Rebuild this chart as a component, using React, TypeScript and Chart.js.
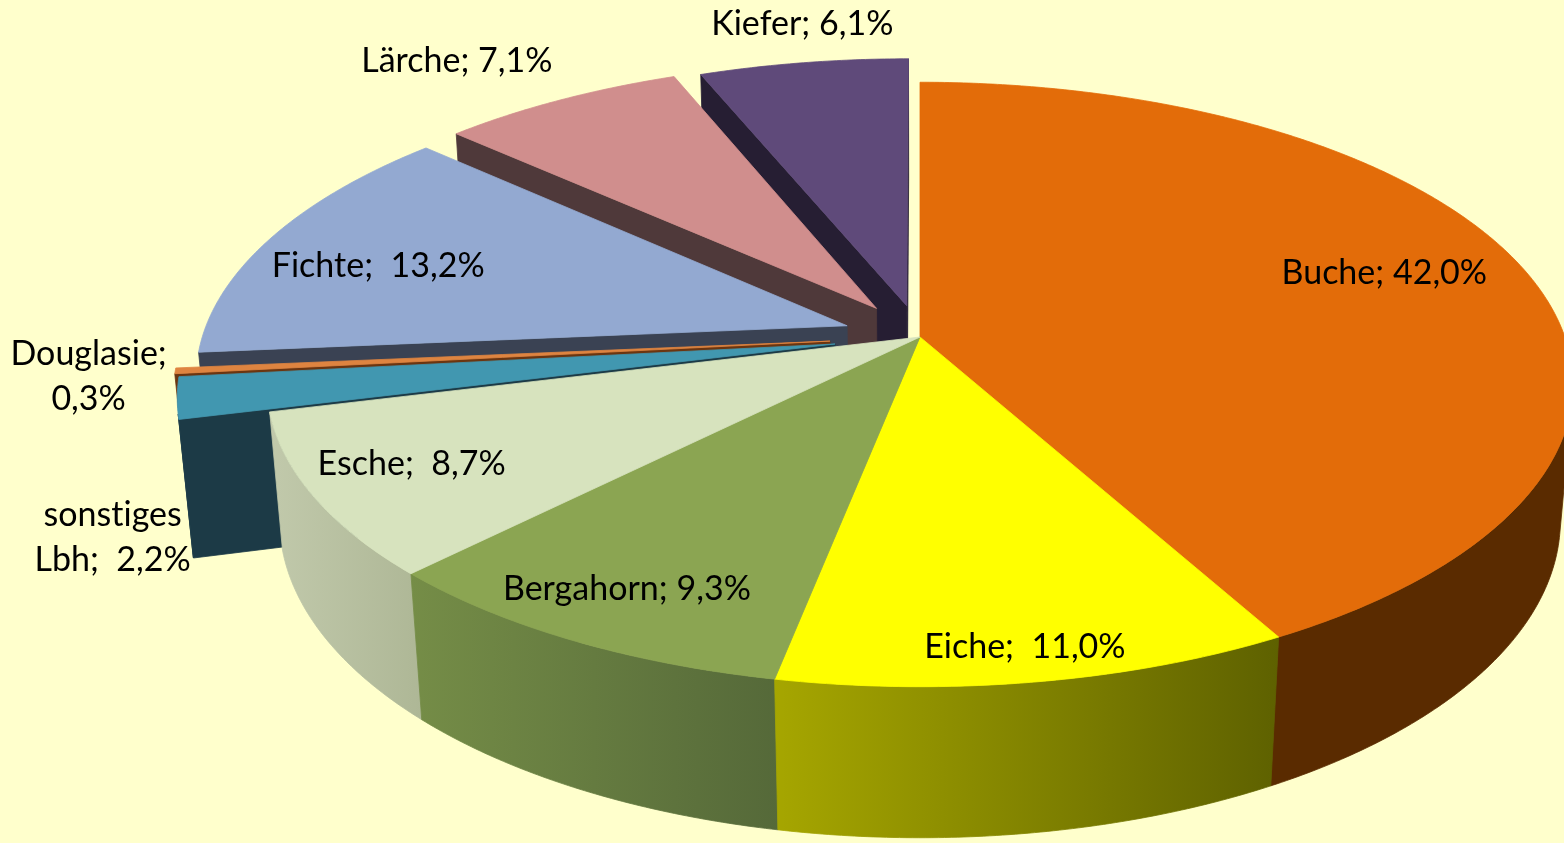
import React, { useEffect, useRef } from 'react';
import { Chart, registerables } from 'chart.js';

Chart.register(...registerables);

// ---------- data ----------
const categories = ['Buche', 'Eiche', 'Bergahorn', 'Esche', 'sonstiges Lbh', 'Douglasie', 'Fichte', 'Lärche', 'Kiefer'];
const shares = [42.0, 11.0, 9.3, 8.7, 2.2, 0.3, 13.2, 7.1, 6.1];
const labelTemplates = [
  ['Buche; {v}%'],
  ['Eiche;  {v}%'],
  ['Bergahorn; {v}%'],
  ['Esche;  {v}%'],
  ['sonstiges', 'Lbh;  {v}%'],
  ['Douglasie;', '{v}%'],
  ['Fichte;  {v}%'],
  ['Lärche; {v}%'],
  ['Kiefer; {v}%'],
];

// ---------- styling ----------
const explodeOffsets = [0, 0, 0, 0, 40, 42, 36, 36, 33];
const topColors = ['#E36C09', '#FFFF00', '#8BA552', '#D7E3BE', '#4197B0', '#DE8440', '#93A9D1', '#D08E8D', '#5F4A7A'];
const wallLeftColors = ['#5A2B00', '#A6A600', '#758D47', '#C1C9AB', '#1C3B47', '#6E3810', '#3A4253', '#4F393A', '#261E33'];
const wallRightColors = ['#5A2B00', '#5E6100', '#556939', '#AEB796', '#1C3B47', '#6E3810', '#3A4253', '#4F393A', '#261E33'];
const cutColors = ['#4A2300', '#555500', '#4A5E30', '#A5AE8D', '#1C3A46', '#6B3510', '#3A4253', '#4F393A', '#261E33'];
const labelRadius = [0.78, 0.91, 0.85, 0.84, 1.16, 1.13, 0.79, 1.27, 1.19];
const labelTurnDeg = [-2.7, 0, 0.4, 1.4, -20.2, 0, -2.8, -2.8, 1.4];

const BACKGROUND = '#FFFFCC';
const FONT_SIZE = 34;
const LINE_HEIGHT = 45;
const FONT_FAMILY = 'Lato, "Open Sans", sans-serif';

// perspective camera (units: pie radius)
const VIEW = { elevationDeg: 27.2, distance: 5.663, focal: 3652, depth: 0.2388 };

const fmt = (v: number) => v.toFixed(1).replace('.', ',');

type Pt = [number, number];

const shoelace = (p: Pt[]) => {
  let a = 0;
  for (let i = 0; i < p.length; i++) {
    const q = p[i];
    const r = p[(i + 1) % p.length];
    a += q[0] * r[1] - r[0] * q[1];
  }
  return a / 2;
};

const pie3d = {
  id: 'pie3d',
  beforeDatasetsDraw(chart: any) {
    const ctx: CanvasRenderingContext2D = chart.ctx;
    const arcs = chart.getDatasetMeta(0).data as any[];
    if (!arcs.length) return false;
    const R = arcs[0].outerRadius;
    const cx = arcs[0].x;
    const cy = arcs[0].y;
    const phi = (VIEW.elevationDeg * Math.PI) / 180;
    const sp = Math.sin(phi);
    const cp = Math.cos(phi);
    const proj = (u: number, v: number, h: number): Pt => {
      const X = u / R;
      const Z = v / R;
      const Y = -h * VIEW.depth;
      const d = VIEW.distance - Y * sp - Z * cp;
      return [cx + (VIEW.focal * X) / d, cy + (VIEW.focal * (Z * sp - Y * cp)) / d];
    };

    type Face = { pts: Pt[]; depth: number; fill: string | CanvasGradient };
    const faces: Face[] = [];
    const tops: Face[] = [];
    const centers: { c: Pt; mid: number; r: number }[] = [];

    arcs.forEach((arc, i) => {
      const a1 = arc.startAngle;
      const a2 = arc.endAngle;
      const r = arc.outerRadius;
      const off = (arc.options && arc.options.offset) || 0;
      const mid = (a1 + a2) / 2;
      const c: Pt = [Math.cos(mid) * off, Math.sin(mid) * off];
      centers.push({ c, mid, r });
      const n = Math.max(2, Math.ceil((a2 - a1) / (Math.PI / 360)));
      const rim: Pt[] = [];
      for (let k = 0; k <= n; k++) {
        const a = a1 + ((a2 - a1) * k) / n;
        rim.push([c[0] + r * Math.cos(a), c[1] + r * Math.sin(a)]);
      }
      tops.push({
        pts: [proj(c[0], c[1], 0), ...rim.map((p) => proj(p[0], p[1], 0))],
        depth: c[1],
        fill: topColors[i],
      });
      const radial = (A: Pt, B: Pt) => {
        const q: Pt[] = [proj(A[0], A[1], 0), proj(B[0], B[1], 0), proj(B[0], B[1], 1), proj(A[0], A[1], 1)];
        if (shoelace(q) < -1) faces.push({ pts: q, depth: (A[1] + B[1]) / 2, fill: cutColors[i] });
      };
      radial(c, rim[0]);
      radial(rim[n], c);

      let run: number[] = [];
      const flush = () => {
        if (!run.length) return;
        const first = run[0];
        const last = run[run.length - 1] + 1;
        const topPts: Pt[] = [];
        const botPts: Pt[] = [];
        let dv = 0;
        for (let k = first; k <= last; k++) {
          topPts.push(proj(rim[k][0], rim[k][1], 0));
          botPts.push(proj(rim[k][0], rim[k][1], 1));
          dv += rim[k][1];
        }
        dv /= last - first + 1;
        const pts = [...topPts, ...botPts.reverse()];
        let minX = Infinity;
        let maxX = -Infinity;
        pts.forEach((p) => {
          minX = Math.min(minX, p[0]);
          maxX = Math.max(maxX, p[0]);
        });
        const g = ctx.createLinearGradient(minX, 0, Math.max(maxX, minX + 1), 0);
        g.addColorStop(0, wallLeftColors[i]);
        g.addColorStop(1, wallRightColors[i]);
        faces.push({ pts, depth: dv, fill: g });
        run = [];
      };
      for (let k = 0; k < n; k++) {
        const A = rim[k];
        const B = rim[k + 1];
        const q: Pt[] = [proj(A[0], A[1], 0), proj(B[0], B[1], 0), proj(B[0], B[1], 1), proj(A[0], A[1], 1)];
        if (shoelace(q) < 0) run.push(k);
        else flush();
      }
      flush();
    });

    const paint = (f: Face) => {
      ctx.beginPath();
      f.pts.forEach((p, k) => (k ? ctx.lineTo(p[0], p[1]) : ctx.moveTo(p[0], p[1])));
      ctx.closePath();
      ctx.fillStyle = f.fill;
      ctx.strokeStyle = f.fill;
      ctx.lineWidth = 0.8;
      ctx.lineJoin = 'round';
      ctx.fill();
      ctx.stroke();
    };

    ctx.save();
    faces.sort((a, b) => a.depth - b.depth).forEach(paint);
    tops.sort((a, b) => a.depth - b.depth).forEach(paint);

    // labels
    ctx.fillStyle = '#000000';
    ctx.font = `${FONT_SIZE}px ${FONT_FAMILY}`;
    (ctx as any).letterSpacing = '0.01px';
    ctx.textAlign = 'center';
    ctx.textBaseline = 'alphabetic';
    const values = chart.data.datasets[0].data as number[];
    centers.forEach(({ c, mid, r }, i) => {
      const ang = mid + (labelTurnDeg[i] * Math.PI) / 180;
      const f = labelRadius[i] * r;
      const [lx, ly] = proj(c[0] + Math.cos(ang) * f, c[1] + Math.sin(ang) * f, 0);
      const lines = labelTemplates[i].map((t) => t.replace('{v}', fmt(values[i])));
      const y0 = ly - ((lines.length - 1) * LINE_HEIGHT) / 2 + FONT_SIZE * 0.36;
      lines.forEach((line, k) => ctx.fillText(line, lx, y0 + k * LINE_HEIGHT));
    });
    ctx.restore();
    return false;
  },
};

export default function App() {
  const canvasRef = useRef<HTMLCanvasElement | null>(null);

  useEffect(() => {
    const canvas = canvasRef.current;
    if (!canvas) return;
    const chart = new Chart(canvas, {
      type: 'pie',
      data: {
        labels: categories,
        datasets: [
          {
            data: shares,
            backgroundColor: topColors,
            offset: explodeOffsets,
            borderWidth: 0,
          },
        ],
      },
      options: {
        responsive: false,
        animation: false,
        devicePixelRatio: 1,
        radius: 300,
        layout: { padding: { left: 276, bottom: 169, top: 0, right: 0 } },
        events: [],
        plugins: {
          legend: { display: false },
          tooltip: { enabled: false },
        },
      } as any,
      plugins: [pie3d as any],
    });
    return () => chart.destroy();
  }, []);

  return (
    <div
      style={{
        position: 'fixed',
        left: 0,
        top: 0,
        width: 1564,
        height: 843,
        background: BACKGROUND,
        overflow: 'hidden',
      }}
    >
      <canvas ref={canvasRef} width={1564} height={843} style={{ display: 'block' }} />
    </div>
  );
}
